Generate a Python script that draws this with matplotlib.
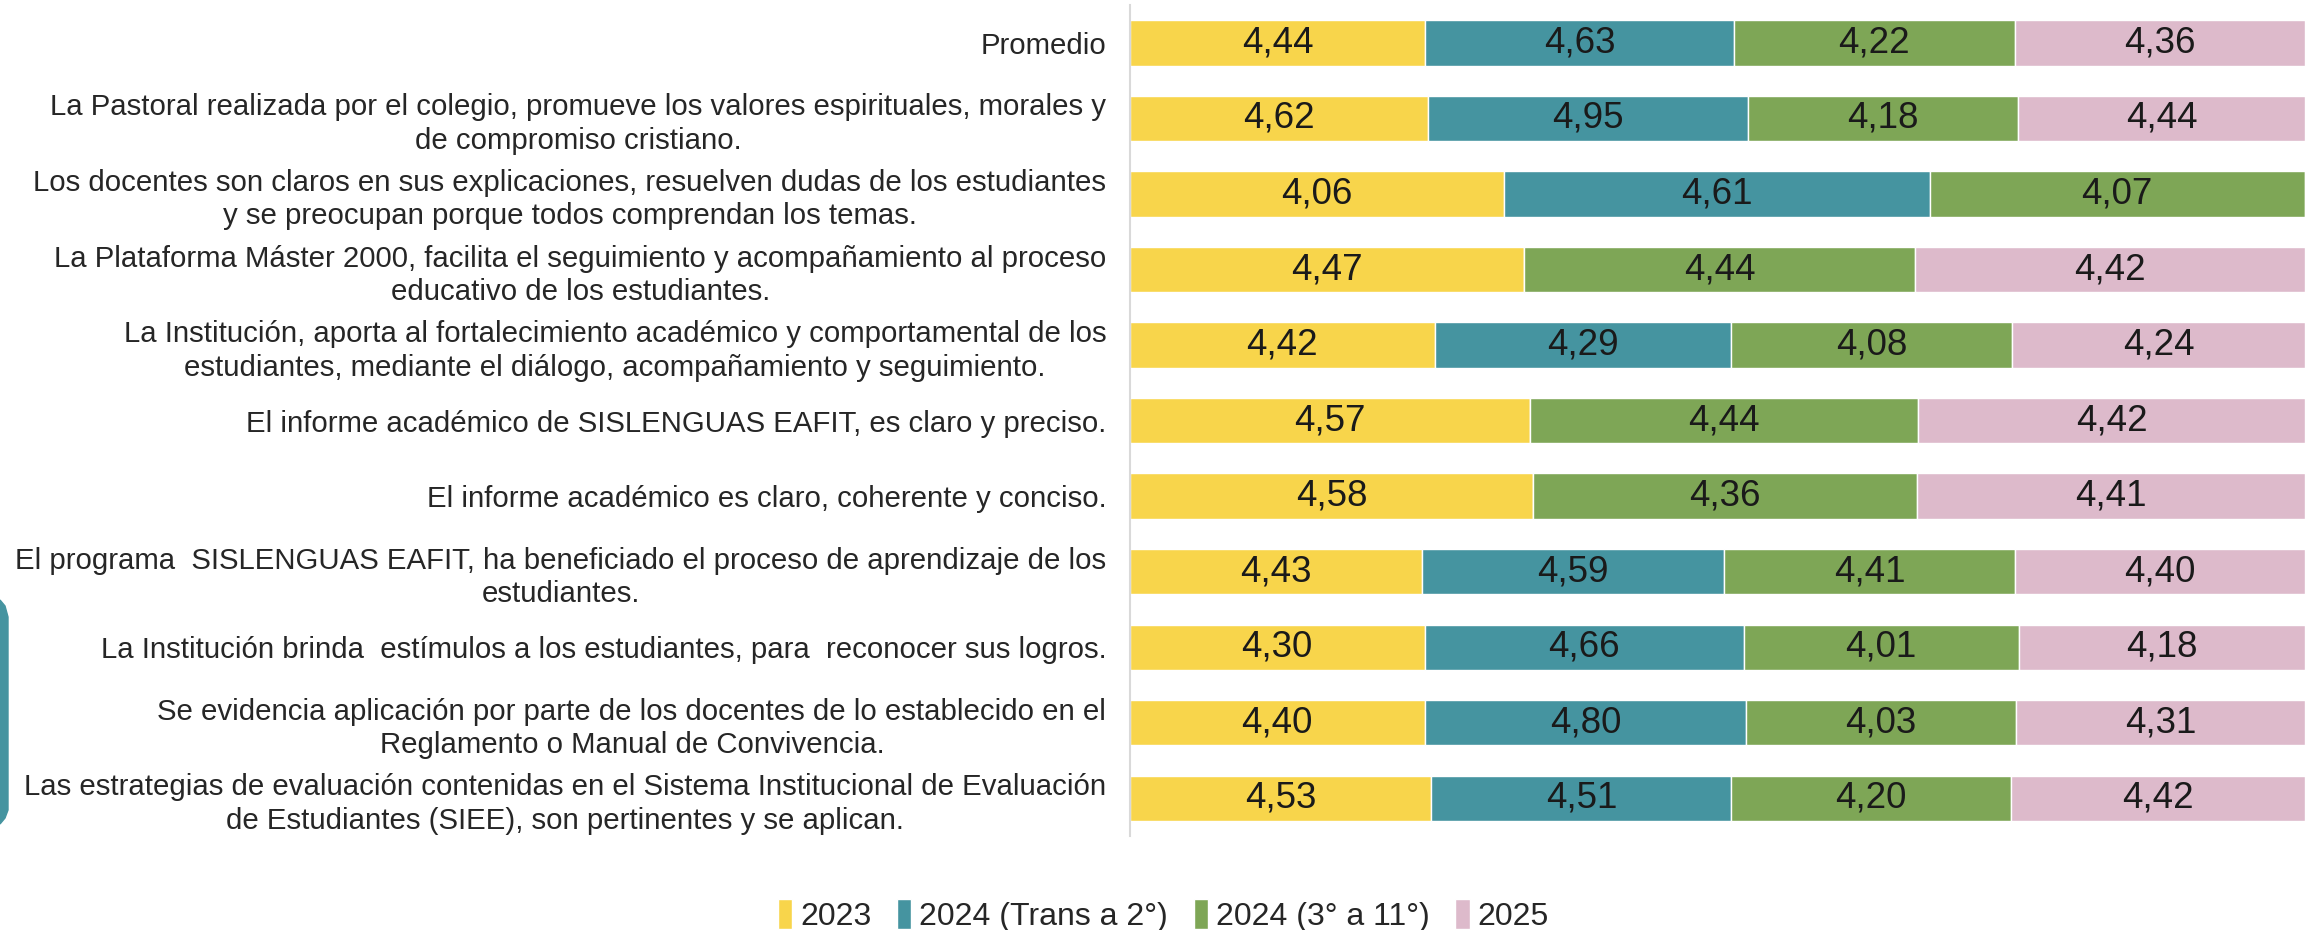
import numpy as np
import matplotlib.pyplot as plt
from matplotlib.patches import Polygon

# ---------------- DATA ----------------
categories = [
    "Promedio",
    "La Pastoral realizada por el colegio, promueve los valores espirituales, morales y\nde compromiso cristiano.",
    "Los docentes son claros en sus explicaciones, resuelven dudas de los estudiantes\ny se preocupan porque todos comprendan los temas.",
    "La Plataforma Máster 2000, facilita el seguimiento y acompañamiento al proceso\neducativo de los estudiantes.",
    "La Institución, aporta al fortalecimiento académico y comportamental de los\nestudiantes, mediante el diálogo, acompañamiento y seguimiento.",
    "El informe académico de SISLENGUAS EAFIT, es claro y preciso.",
    "El informe académico es claro, coherente y conciso.",
    "El programa  SISLENGUAS EAFIT, ha beneficiado el proceso de aprendizaje de los\nestudiantes.",
    "La Institución brinda  estímulos a los estudiantes, para  reconocer sus logros.",
    "Se evidencia aplicación por parte de los docentes de lo establecido en el\nReglamento o Manual de Convivencia.",
    "Las estrategias de evaluación contenidas en el Sistema Institucional de Evaluación\nde Estudiantes (SIEE), son pertinentes y se aplican.",
]

series_names = ["2023", "2024 (Trans a 2°)", "2024 (3° a 11°)", "2025"]

v2023 = [4.44, 4.62, 4.06, 4.47, 4.42, 4.57, 4.58, 4.43, 4.30, 4.40, 4.53]
v2024_trans = [4.63, 4.95, 4.61, np.nan, 4.29, np.nan, np.nan, 4.59, 4.66, 4.80, 4.51]
v2024_3a11 = [4.22, 4.18, 4.07, 4.44, 4.08, 4.44, 4.36, 4.41, 4.01, 4.03, 4.20]
v2025 = [4.36, 4.44, np.nan, 4.42, 4.24, 4.42, 4.41, 4.40, 4.18, 4.31, 4.42]

colors = ["#F8D54B", "#4594A0", "#7EA656", "#DDBACB"]
# --------------------------------------

plt.rcParams["font.family"] = ["Liberation Sans", "DejaVu Sans"]

data = np.array([v2023, v2024_trans, v2024_3a11, v2025], dtype=float)
filled = np.nan_to_num(data)
totals = filled.sum(axis=0)
shares = filled / totals  # 100% stacked

fig = plt.figure(figsize=(23.13, 9.30), dpi=100)
ax = fig.add_axes([0.4885, 0.101, 0.508, 0.8935])

y = np.arange(len(categories))
left = np.zeros(len(categories))
for i, name in enumerate(series_names):
    ax.barh(y, shares[i], left=left, height=0.6, color=colors[i],
            edgecolor="white", linewidth=1.0, label=name)
    for j in range(len(categories)):
        if not np.isnan(data[i, j]):
            ax.text(left[j] + shares[i, j] / 2, y[j],
                    f"{data[i, j]:.2f}".replace(".", ","),
                    ha="center", va="center", fontsize=26.5, color="#1a1a1a")
    left += shares[i]

ax.set_xlim(0, 1)
ax.set_ylim(len(categories) - 0.5, -0.5)
ax.set_yticks(y)
ax.set_yticklabels(categories, fontsize=21.2, color="#262626")
for t in ax.get_yticklabels():
    t.set_multialignment("center")
    t.set_linespacing(1.25)
ax.tick_params(axis="y", length=0, pad=17)
ax.set_xticks([])
for s in ["top", "right", "bottom"]:
    ax.spines[s].set_visible(False)
ax.spines["left"].set_color("#D9D9D9")
ax.spines["left"].set_linewidth(1.5)

fig.legend(loc="center", bbox_to_anchor=(0.503, 0.016), ncol=4, frameon=False,
           fontsize=23, handlelength=0.45, handleheight=1.1, handletextpad=0.25,
           columnspacing=0.8, labelcolor="#262626")

# decorative tab on the left edge of the slide
H = 930.0
W = 2313.0
pts = [(0, 600), (5, 606), (8, 617), (8, 810), (5, 818), (0, 824)]
fig.patches.append(Polygon([(x / W, 1 - yy / H) for x, yy in pts], closed=True,
                           transform=fig.transFigure, color="#4594A0"))

fig.savefig("out.png", dpi=100)
